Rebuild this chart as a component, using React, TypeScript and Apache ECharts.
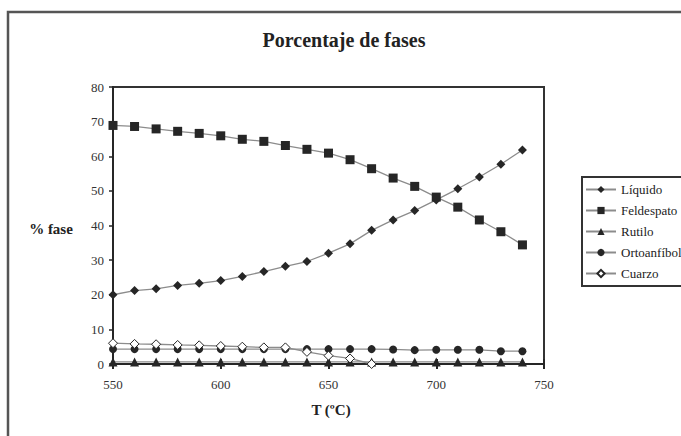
import React, { useEffect, useRef } from "react";
import * as echarts from "echarts";

const temps = [550, 560, 570, 580, 590, 600, 610, 620, 630, 640, 650, 660, 670, 680, 690, 700, 710, 720, 730, 740];
const liquido = [20.0, 21.2, 21.7, 22.7, 23.3, 24.1, 25.3, 26.7, 28.2, 29.6, 32.0, 34.7, 38.6, 41.6, 44.3, 47.4, 50.6, 54.0, 57.7, 61.8];
const feldespato = [68.9, 68.6, 67.9, 67.2, 66.6, 65.9, 64.9, 64.3, 63.1, 62.0, 60.9, 59.0, 56.4, 53.7, 51.3, 48.2, 45.3, 41.6, 38.2, 34.4];
const rutilo = [0.6, 0.6, 0.6, 0.6, 0.6, 0.6, 0.6, 0.6, 0.6, 0.6, 0.6, 0.6, 0.6, 0.6, 0.6, 0.6, 0.6, 0.6, 0.6, 0.6];
const ortoanfibol = [4.3, 4.3, 4.3, 4.3, 4.3, 4.3, 4.3, 4.3, 4.3, 4.3, 4.3, 4.3, 4.3, 4.2, 4.0, 4.1, 4.1, 4.1, 3.7, 3.7];
const cuarzo = [6.0, 5.8, 5.7, 5.5, 5.4, 5.2, 5.0, 4.8, 4.8, 3.5, 2.4, 1.6, 0.0];

const seriesNames = ["Líquido", "Feldespato", "Rutilo", "Ortoanfíbol", "Cuarzo"];
const titleText = "Porcentaje de fases";
const yName = "% fase";
const xName = "T (ºC)";

const FONT = "Liberation Serif";
const DARK = "#262626";
const LINE = "#8c8c8c";

function pairs(vals: number[]) {
  return vals.map((v, i) => [temps[i], v]);
}

export default function App() {
  const ref = useRef<HTMLDivElement>(null);
  useEffect(() => {
    document.body.style.margin = "0";
    const chart = echarts.init(ref.current!, undefined, { renderer: "svg" });
    const mk = (name: string, vals: number[], symbol: string, size: number, filled = true) => ({
      name,
      type: "line",
      data: pairs(vals),
      symbol,
      symbolSize: size,
      showAllSymbol: true,
      lineStyle: { color: LINE, width: 1.3 },
      itemStyle: filled
        ? { color: DARK, borderColor: DARK, borderWidth: 0 }
        : { color: "#ffffff", borderColor: DARK, borderWidth: 1 },
      emphasis: { disabled: true },
    });
    chart.setOption({
      animation: false,
      backgroundColor: "#ffffff",
      textStyle: { fontFamily: FONT },
      graphic: [
        {
          type: "rect",
          shape: { x: 8, y: 12, width: 700, height: 460 },
          style: { fill: "none", stroke: "#555", lineWidth: 2.5 },
          silent: true,
        },
        {
          type: "text",
          x: 344,
          y: 40,
          style: {
            text: titleText,
            fontFamily: FONT,
            fontSize: 20,
            fontWeight: "bold",
            fill: "#222",
            align: "center",
            verticalAlign: "middle",
          },
        },
        {
          type: "text",
          x: 51,
          y: 229,
          style: {
            text: yName,
            fontFamily: FONT,
            fontSize: 15,
            fontWeight: "bold",
            fill: "#222",
            align: "center",
            verticalAlign: "middle",
          },
        },
        {
          type: "text",
          x: 331,
          y: 410,
          style: {
            text: xName,
            fontFamily: FONT,
            fontSize: 15,
            fontWeight: "bold",
            fill: "#222",
            align: "center",
            verticalAlign: "middle",
          },
        },
      ],
      grid: {
        left: 113,
        top: 87,
        right: 137,
        bottom: 72,
        show: true,
        borderColor: "#333",
        borderWidth: 2,
        backgroundColor: "transparent",
      },
      legend: {
        orient: "vertical",
        left: 582,
        top: 177,
        data: seriesNames,
        borderColor: "#333",
        borderWidth: 2,
        padding: [6, 10, 6, 3],
        itemWidth: 30,
        itemHeight: 9,
        itemGap: 8,
        textStyle: { fontFamily: FONT, fontSize: 13, color: "#222" },
        selectedMode: false,
      },
      xAxis: [
        {
          type: "value",
          min: 550,
          max: 750,
          interval: 50,
          axisLine: { show: true, lineStyle: { color: DARK, width: 2 } },
          axisTick: { show: true, length: 5, lineStyle: { color: DARK, width: 2 } },
          axisLabel: { margin: 14, fontFamily: FONT, fontSize: 13, color: "#333" },
          splitLine: { show: false },
        },
        {
          type: "value",
          min: 550,
          max: 750,
          interval: 50,
          position: "bottom",
          axisLine: { show: false },
          axisTick: { show: true, inside: true, length: 5, lineStyle: { color: DARK, width: 2 } },
          axisLabel: { show: false },
          splitLine: { show: false },
        },
      ],
      yAxis: {
        type: "value",
        min: 0,
        max: 80,
        interval: 10,
        axisLine: { show: true, lineStyle: { color: DARK, width: 2 } },
        axisTick: { show: true, length: 4, lineStyle: { color: DARK, width: 1.5 } },
        axisLabel: { margin: 9, fontFamily: FONT, fontSize: 13, color: "#333" },
        splitLine: { show: false },
      },
      series: [
        mk(seriesNames[0], liquido, "diamond", 9),
        mk(seriesNames[1], feldespato, "rect", 9),
        mk(seriesNames[2], rutilo, "triangle", 9),
        mk(seriesNames[3], ortoanfibol, "circle", 8),
        mk(seriesNames[4], cuarzo, "diamond", 9, false),
      ],
    });
    return () => chart.dispose();
  }, []);
  return <div ref={ref} style={{ width: 681, height: 436 }} />;
}
